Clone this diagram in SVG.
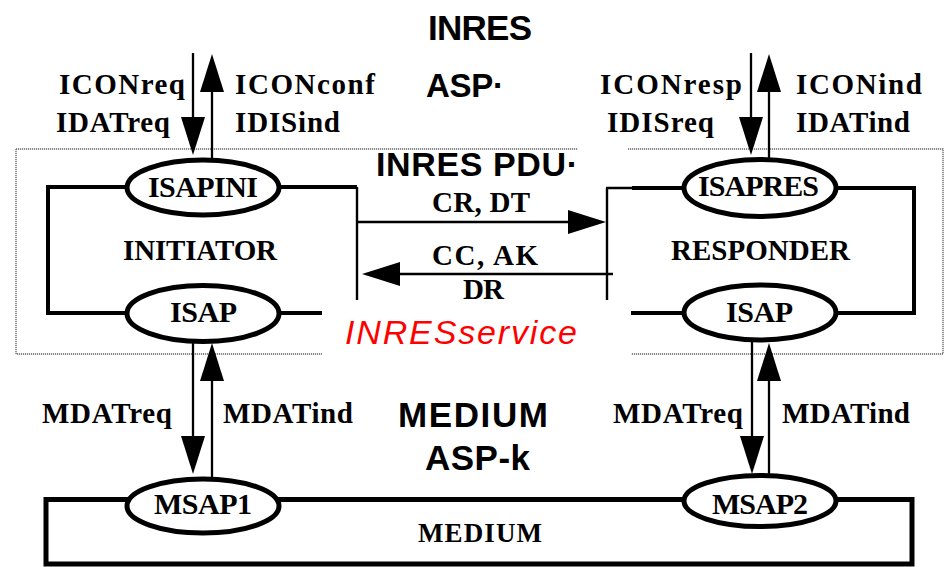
<svg xmlns="http://www.w3.org/2000/svg" width="944" height="567" viewBox="0 0 944 567">
<style>
.lbl{font-family:"Liberation Serif","Times New Roman",serif;font-weight:bold;font-size:29px;fill:#000}
.nl{font-size:30px}
.big{font-family:"Liberation Sans",Arial,sans-serif;font-weight:bold;font-size:35px;fill:#000}
.svc{font-family:"Liberation Sans",Arial,sans-serif;font-style:italic;font-size:34px;fill:#ff0000}
.sap{fill:#fff;stroke:#000;stroke-width:5}
.thick{fill:none;stroke:#000;stroke-width:4}
.thin{fill:none;stroke:#000;stroke-width:2.4}
.arr{fill:none;stroke:#000;stroke-width:2.3;marker-end:url(#ah)}
.dot{fill:none;stroke:#666;stroke-width:1.3;stroke-dasharray:1.2 0.8}
</style>
<defs>
<marker id="ah" markerUnits="userSpaceOnUse" markerWidth="38" markerHeight="24" refX="0" refY="12" orient="auto" overflow="visible">
<path d="M0,0 L38,12 L0,24 Z" fill="#000"/>
</marker>
</defs>
<rect width="944" height="567" fill="#fff"/>

<g id="inres-service-frame">
<path class="dot" d="M16,149 H578 M628,149 H943 V354 H631 M322,354 H16 V149"/>
</g>

<g id="initiator">
<path class="thick" d="M357,187 H48 V313 H322"/>
<path class="thin" d="M357,187 V300"/>
<text class="lbl" x="123" y="260" textLength="154" lengthAdjust="spacing">INITIATOR</text>
</g>

<g id="responder">
<path class="thick" d="M632,188 H914 V313 H631"/>
<path class="thin" d="M606,188 H632 M607,188 V300"/>
<text class="lbl" x="671" y="260" textLength="179" lengthAdjust="spacing">RESPONDER</text>
</g>

<g id="medium">
<rect x="46" y="499.5" width="866" height="64.5" fill="none" stroke="#000" stroke-width="5"/>
<text class="lbl" x="418" y="542" style="font-size:27px" textLength="124" lengthAdjust="spacing">MEDIUM</text>
</g>

<g id="connectors">
<path class="arr" d="M193,53 V117"/>
<path class="arr" d="M212,159 V92"/>
<path class="arr" d="M751,53 V117"/>
<path class="arr" d="M769,158 V92"/>
<path class="arr" d="M357,222 H568"/>
<path class="arr" d="M613,274 H400"/>
<path class="arr" d="M193,342 V436"/>
<path class="arr" d="M212,478 V381"/>
<path class="arr" d="M752,341 V436"/>
<path class="arr" d="M769,476 V381"/>
</g>

<g id="isapini">
<ellipse class="sap" cx="203" cy="187.5" rx="76" ry="27.5"/>
<text class="lbl nl" x="148" y="197" textLength="110" lengthAdjust="spacing">ISAPINI</text>
</g>
<g id="isap-ini">
<ellipse class="sap" cx="203" cy="313.5" rx="76" ry="28"/>
<text class="lbl nl" x="170" y="322" textLength="67" lengthAdjust="spacing">ISAP</text>
</g>
<g id="isapres">
<ellipse class="sap" cx="760" cy="188" rx="76" ry="28.5"/>
<text class="lbl nl" x="698" y="196" textLength="121" lengthAdjust="spacing">ISAPRES</text>
</g>
<g id="isap-res">
<ellipse class="sap" cx="760" cy="312.5" rx="76" ry="27.5"/>
<text class="lbl nl" x="726" y="322" textLength="67" lengthAdjust="spacing">ISAP</text>
</g>
<g id="msap1">
<ellipse class="sap" cx="203" cy="506" rx="76" ry="27"/>
<text class="lbl nl" x="154" y="514" textLength="98" lengthAdjust="spacing">MSAP1</text>
</g>
<g id="msap2">
<ellipse class="sap" cx="760" cy="501" rx="76" ry="25.5"/>
<text class="lbl nl" x="712" y="514" textLength="96" lengthAdjust="spacing">MSAP2</text>
</g>

<g id="labels">
<text class="big" x="428" y="40" textLength="104" lengthAdjust="spacing">INRES</text>
<text class="big" x="426" y="97" style="font-size:33px" textLength="78" lengthAdjust="spacing">ASP·</text>
<text class="big" x="376" y="176" style="font-size:34px" textLength="202" lengthAdjust="spacing">INRES PDU·</text>
<text class="svc" x="345" y="344" textLength="232" lengthAdjust="spacing">INRESservice</text>
<text class="big" x="398" y="427" textLength="150" lengthAdjust="spacing">MEDIUM</text>
<text class="big" x="425" y="470" textLength="105" lengthAdjust="spacing">ASP-k</text>

<text class="lbl" x="59" y="94" textLength="126" lengthAdjust="spacing">ICONreq</text>
<text class="lbl" x="56" y="132" textLength="114" lengthAdjust="spacing">IDATreq</text>
<text class="lbl" x="235" y="94" textLength="140" lengthAdjust="spacing">ICONconf</text>
<text class="lbl" x="235" y="132" textLength="105" lengthAdjust="spacing">IDISind</text>
<text class="lbl" x="600" y="94" textLength="142" lengthAdjust="spacing">ICONresp</text>
<text class="lbl" x="607" y="132" textLength="107" lengthAdjust="spacing">IDISreq</text>
<text class="lbl" x="796" y="94" textLength="126" lengthAdjust="spacing">ICONind</text>
<text class="lbl" x="796" y="132" textLength="114" lengthAdjust="spacing">IDATind</text>

<text class="lbl" x="432" y="212" textLength="98" lengthAdjust="spacing">CR, DT</text>
<text class="lbl" x="432" y="265" textLength="106" lengthAdjust="spacing">CC, AK</text>
<text class="lbl" x="463" y="299" textLength="41" lengthAdjust="spacing">DR</text>

<text class="lbl" x="42" y="423" textLength="130" lengthAdjust="spacing">MDATreq</text>
<text class="lbl" x="223" y="423" textLength="130" lengthAdjust="spacing">MDATind</text>
<text class="lbl" x="613" y="423" textLength="130" lengthAdjust="spacing">MDATreq</text>
<text class="lbl" x="782" y="423" textLength="128" lengthAdjust="spacing">MDATind</text>
</g>
</svg>
